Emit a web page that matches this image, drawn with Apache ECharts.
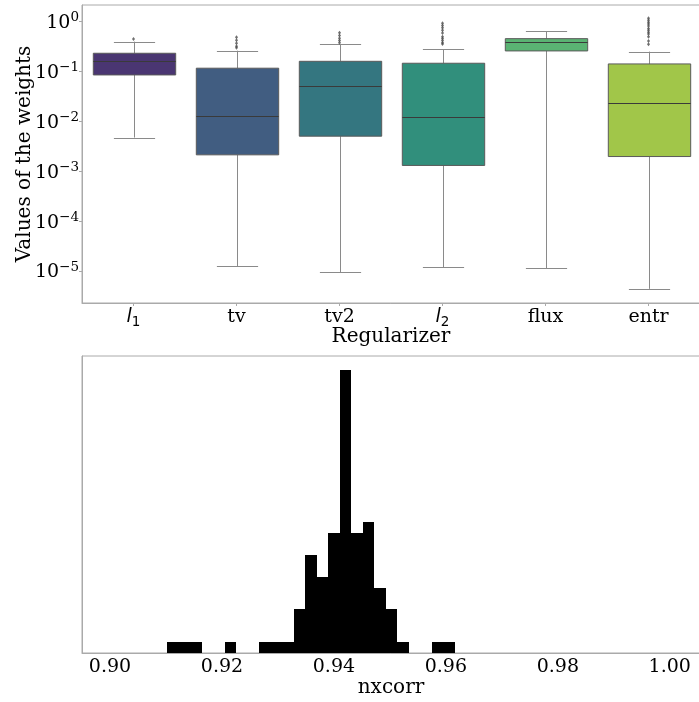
<!DOCTYPE html>
<html><head><meta charset="utf-8">
<script src="https://cdn.jsdelivr.net/npm/echarts@6/dist/echarts.min.js"></script>
<style>html,body{margin:0;padding:0;background:#fff}#c{width:699px;height:702px}</style>
</head><body><div id="c"></div>
<script>
// ---- data ----
const regularizers = ['l_1', 'tv', 'tv2', 'l_2', 'flux', 'entr'];
const whiskerLow  = [0.0047, 1.24e-5, 9.4e-6, 1.2e-5, 1.15e-5, 4.4e-6];
const quartile1   = [0.0843, 0.00212, 0.00501, 0.0013, 0.255, 0.00196];
const medians     = [0.158, 0.0128, 0.0501, 0.0120, 0.380, 0.0229];
const quartile3   = [0.229, 0.115, 0.158, 0.1445, 0.449, 0.140];
const whiskerHigh = [0.391, 0.258, 0.347, 0.275, 0.631, 0.247];
const outliersL1   = [0.443];
const outliersTv   = [0.479, 0.417, 0.363, 0.316, 0.294];
const outliersTv2  = [0.592, 0.52, 0.46, 0.41, 0.373];
const outliersL2   = [0.91, 0.82, 0.74, 0.66, 0.58, 0.49, 0.45, 0.41, 0.37, 0.35];
const outliersFlux = [];
const outliersEntr = [1.15, 1.05, 0.96, 0.88, 0.80, 0.72, 0.66, 0.6, 0.557, 0.492, 0.404, 0.347];
const yTickExponents = [-5, -4, -3, -2, -1, 0];

const histBinEdges = [0.91024, 0.912293, 0.914346, 0.916399, 0.918452, 0.920505, 0.922558, 0.924611,
  0.926664, 0.928717, 0.93077, 0.932823, 0.934876, 0.936929, 0.938982, 0.941035, 0.943088,
  0.945141, 0.947194, 0.949247, 0.9513, 0.953353, 0.955406, 0.957459, 0.959512, 0.961565];
const histCounts = [1, 1, 1, 0, 0, 1, 0, 0, 1, 1, 1, 4, 9, 7, 11, 26, 11, 12, 6, 4, 1, 0, 0, 1, 1];
const histTicks = [0.90, 0.92, 0.94, 0.96, 0.98, 1.00];

// ---- styles ----
const boxColors = ['#4a3672', '#415d81', '#347680', '#318f7c', '#5ab373', '#a1c649'];
const serif = 'DejaVu Serif';
const frame = '#aaaaaa';

const outlierSets = [outliersL1, outliersTv, outliersTv2, outliersL2, outliersFlux, outliersEntr];
const outlierData = [];
outlierSets.forEach((arr, i) => arr.forEach(v => outlierData.push([i, v])));

const boxData = regularizers.map((r, i) => [i, whiskerLow[i], quartile1[i], medians[i], quartile3[i], whiskerHigh[i]]);
const histData = histCounts.map((c, i) => [histBinEdges[i], histBinEdges[i + 1], c]);

const chart = echarts.init(document.getElementById('c'), null, {renderer: 'canvas'});

const catRich = {
  n:  {fontFamily: serif, fontSize: 19, lineHeight: 24, color: '#000'},
  it: {fontFamily: 'DejaVu Sans', fontStyle: 'italic', fontSize: 19, lineHeight: 24, color: '#000'},
  sub:{fontFamily: 'DejaVu Sans', fontSize: 13.5, lineHeight: 17, verticalAlign: 'bottom', color: '#000'}
};

chart.setOption({
  animation: false,
  backgroundColor: '#fff',
  grid: [
    {left: 82, top: 5, width: 618, height: 298, show: true, borderColor: frame, borderWidth: 1,
      backgroundColor: 'transparent', containLabel: false, outerBoundsMode: 'none'},
    {left: 82, top: 356, width: 618, height: 297, show: true, borderColor: frame, borderWidth: 1,
      backgroundColor: 'transparent', containLabel: false, outerBoundsMode: 'none'}
  ],
  xAxis: [
    {
      type: 'category', gridIndex: 0, data: regularizers, boundaryGap: true,
      axisLine: {show: true, lineStyle: {color: frame}},
      axisTick: {show: true, alignWithLabel: true, length: 3, lineStyle: {color: frame}},
      axisLabel: {
        margin: 2, interval: 0,
        formatter: function (v) {
          if (v.indexOf('_') >= 0) {
            const p = v.split('_');
            return '{it|' + p[0] + '}{sub|' + p[1] + '}';
          }
          return '{n|' + v + '}';
        },
        rich: catRich
      },
      name: 'Regularizer', nameLocation: 'middle', nameGap: 22, nameMoveOverlap: false,
      nameTextStyle: {fontFamily: serif, fontSize: 20, color: '#000', lineHeight: 24}
    },
    {
      type: 'value', gridIndex: 1, min: 0.895, max: 1.0054,
      axisLine: {show: true, lineStyle: {color: frame}},
      axisTick: {show: false},
      splitLine: {show: false},
      axisLabel: {
        margin: 2, fontFamily: serif, fontSize: 19, color: '#000', lineHeight: 24,
        showMinLabel: false, showMaxLabel: false,
        formatter: function (v) {
          for (const t of histTicks) { if (Math.abs(v - t) < 1e-6) return t.toFixed(2); }
          return '';
        }
      },
      name: 'nxcorr', nameLocation: 'middle', nameGap: 23, nameMoveOverlap: false,
      nameTextStyle: {fontFamily: serif, fontSize: 20, color: '#000', lineHeight: 24}
    }
  ],
  yAxis: [
    {
      type: 'log', logBase: 10, gridIndex: 0,
      min: Math.pow(10, -5.64), max: Math.pow(10, 0.326),
      axisLine: {show: true, lineStyle: {color: frame}},
      axisTick: {show: true, length: 3, lineStyle: {color: frame}},
      splitLine: {show: false},
      axisLabel: {
        margin: 3, showMinLabel: false, showMaxLabel: false,
        formatter: function (v) {
          const e = Math.log10(v), r = Math.round(e);
          if (Math.abs(e - r) > 1e-6 || yTickExponents.indexOf(r) < 0) return '';
          return '{b|10}{s|' + (r < 0 ? '\u2212' + (-r) : String(r)) + '}';
        },
        rich: {
          b: {fontFamily: serif, fontSize: 19, lineHeight: 22, verticalAlign: 'bottom', color: '#000'},
          s: {fontFamily: serif, fontSize: 13.5, lineHeight: 15, verticalAlign: 'top', color: '#000'}
        }
      },
      name: 'Values of the weights', nameLocation: 'middle', nameGap: 45, nameRotate: 90, nameMoveOverlap: false,
      nameTextStyle: {fontFamily: serif, fontSize: 20, color: '#000', lineHeight: 24}
    },
    {
      type: 'value', gridIndex: 1, min: 0, max: 27.3,
      axisLine: {show: true, lineStyle: {color: frame}},
      axisTick: {show: false}, axisLabel: {show: false}, splitLine: {show: false}
    }
  ],
  series: [
    {
      type: 'custom', xAxisIndex: 0, yAxisIndex: 0, data: boxData,
      encode: {x: 0, y: [1, 2, 3, 4, 5]},
      renderItem: function (params, api) {
        const i = api.value(0);
        const pLow = api.coord([i, api.value(1)]);
        const pQ1 = api.coord([i, api.value(2)]);
        const pMed = api.coord([i, api.value(3)]);
        const pQ3 = api.coord([i, api.value(4)]);
        const pHigh = api.coord([i, api.value(5)]);
        const band = api.coord([1, api.value(3)])[0] - api.coord([0, api.value(3)])[0];
        const bw = band * 0.8, cw = bw * 0.5;
        const x = Math.round(pMed[0]) + 0.5;
        const wStyle = {stroke: '#8a8a8a', lineWidth: 1};
        return {
          type: 'group',
          children: [
            {type: 'line', shape: {x1: x, y1: pQ1[1], x2: x, y2: pLow[1]}, style: wStyle},
            {type: 'line', shape: {x1: x, y1: pQ3[1], x2: x, y2: pHigh[1]}, style: wStyle},
            {type: 'line', shape: {x1: x - cw / 2, y1: Math.round(pLow[1]) + 0.5, x2: x + cw / 2, y2: Math.round(pLow[1]) + 0.5}, style: wStyle},
            {type: 'line', shape: {x1: x - cw / 2, y1: Math.round(pHigh[1]) + 0.5, x2: x + cw / 2, y2: Math.round(pHigh[1]) + 0.5}, style: wStyle},
            {type: 'rect', shape: {x: x - bw / 2, y: pQ3[1], width: bw, height: pQ1[1] - pQ3[1]},
              style: {fill: boxColors[i], stroke: '#5a5a5a', lineWidth: 1}},
            {type: 'line', shape: {x1: x - bw / 2, y1: Math.round(pMed[1]) + 0.5, x2: x + bw / 2, y2: Math.round(pMed[1]) + 0.5},
              style: {stroke: '#3a3a3a', lineWidth: 1}}
          ]
        };
      }
    },
    {
      type: 'scatter', xAxisIndex: 0, yAxisIndex: 0, data: outlierData,
      symbol: 'diamond', symbolSize: [3, 4],
      itemStyle: {color: '#4a4a4a'}
    },
    {
      type: 'custom', xAxisIndex: 1, yAxisIndex: 1, data: histData,
      encode: {x: [0, 1], y: 2},
      renderItem: function (params, api) {
        const c = api.value(2);
        if (!c) return null;
        const p0 = api.coord([api.value(0), c]);
        const p1 = api.coord([api.value(1), 0]);
        const x0 = Math.round(p0[0]), x1 = Math.round(p1[0]);
        const y0 = Math.round(p0[1]);
        return {type: 'rect', shape: {x: x0, y: y0, width: x1 - x0, height: p1[1] - y0},
          style: {fill: '#000'}};
      }
    }
  ]
});
</script>
</body></html>
